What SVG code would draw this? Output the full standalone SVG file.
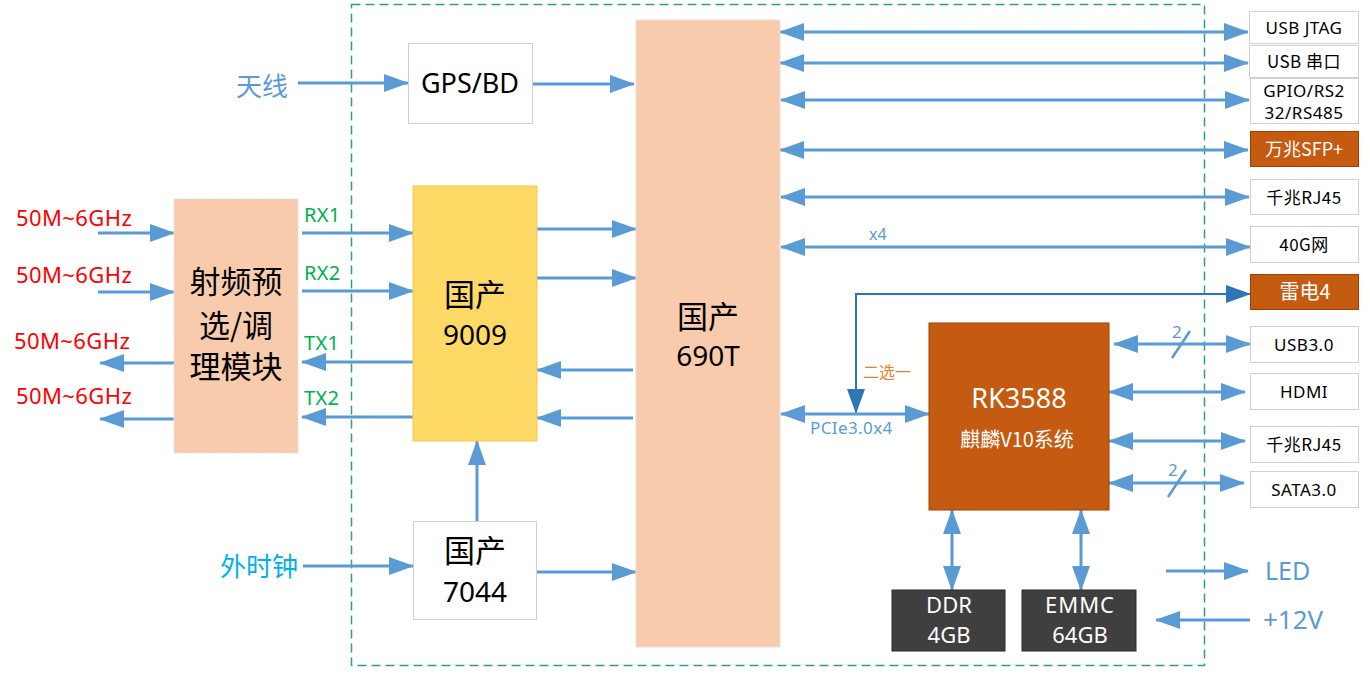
<svg xmlns="http://www.w3.org/2000/svg" width="1370" height="680" viewBox="0 0 1370 680">
<style>
.t{font-family:"Noto Sans","Noto Sans CJK SC",sans-serif;}
.c{font-family:"Noto Sans CJK SC","Noto Sans",sans-serif;}
.ln{stroke:#5B9BD5;stroke-width:3;fill:none;}
.one{marker-end:url(#a);}
.two{marker-start:url(#a);marker-end:url(#a);}
.wb{fill:#FFFFFF;stroke:#D0D0D0;stroke-width:1;}
.ob{fill:#C55A11;stroke:#A04000;stroke-width:1;}
.db{fill:#3F3F3F;stroke:#2A2A2A;stroke-width:1;}
.red{fill:#FF0000;font-size:22px;letter-spacing:0.4px;}
.grn{fill:#00B050;font-size:20px;letter-spacing:0.3px;}
.blk{fill:#000000;}
.wht{fill:#FFFFFF;}
.rt{font-size:17px;fill:#000;letter-spacing:0.5px;}
</style>
<defs>
<marker id="a" viewBox="0 0 25 18" refX="24" refY="9" markerWidth="25" markerHeight="18" markerUnits="userSpaceOnUse" orient="auto-start-reverse"><path d="M0,0 L25,9 L0,18 z" fill="#5B9BD5"/></marker>
<marker id="d" viewBox="0 0 25 18" refX="24" refY="9" markerWidth="25" markerHeight="18" markerUnits="userSpaceOnUse" orient="auto-start-reverse"><path d="M0,0 L25,9 L0,18 z" fill="#2E75B6"/></marker>
</defs>
<rect width="1370" height="680" fill="#FFFFFF"/>
<rect id="board" x="351.5" y="4.5" width="853" height="661" fill="none" stroke="#2E9C96" stroke-width="1.5" stroke-dasharray="9,5"/>

<g id="connectors">
<line class="ln one" x1="98" y1="233" x2="174" y2="233"/>
<line class="ln one" x1="98" y1="292" x2="174" y2="292"/>
<line class="ln one" x1="174" y1="363" x2="100" y2="363"/>
<line class="ln one" x1="174" y1="419" x2="100" y2="419"/>
<line class="ln one" x1="302" y1="233" x2="413" y2="233"/>
<line class="ln one" x1="302" y1="291" x2="413" y2="291"/>
<line class="ln one" x1="413" y1="362" x2="302" y2="362"/>
<line class="ln one" x1="413" y1="417" x2="302" y2="417"/>
<line class="ln one" x1="537" y1="229" x2="636" y2="229"/>
<line class="ln one" x1="537" y1="278" x2="636" y2="278"/>
<line class="ln one" x1="633" y1="370" x2="537" y2="370"/>
<line class="ln one" x1="633" y1="418" x2="537" y2="418"/>
<line class="ln one" x1="298" y1="83" x2="408" y2="83"/>
<line class="ln one" x1="533" y1="84" x2="634" y2="84"/>
<line class="ln one" x1="303" y1="566" x2="413" y2="566"/>
<line class="ln one" x1="537" y1="572" x2="636" y2="572"/>
<line class="ln one" x1="477" y1="521" x2="477" y2="441"/>
<line class="ln two" x1="780" y1="32" x2="1248" y2="32"/>
<line class="ln two" x1="780" y1="63" x2="1248" y2="63"/>
<line class="ln two" x1="781" y1="100" x2="1249" y2="100"/>
<line class="ln two" x1="780" y1="150" x2="1248" y2="150"/>
<line class="ln two" x1="781" y1="197" x2="1249" y2="197"/>
<line class="ln two" x1="781" y1="247" x2="1250" y2="247"/>
<text class="t" x="869" y="240" font-size="16" fill="#5B9BD5">x4</text>
<polyline points="856,413 856,294 1250,294" fill="none" stroke="#2E75B6" stroke-width="2" marker-start="url(#d)" marker-end="url(#d)"/>
<text class="c" x="863" y="378" font-size="16" fill="#ED7D31">二选一</text>
<line class="ln two" x1="781" y1="414" x2="929" y2="414"/>
<text class="t" x="810" y="434" font-size="17" fill="#5B9BD5" letter-spacing="0.4">PCIe3.0x4</text>
<line class="ln two" x1="1114" y1="344" x2="1250" y2="344"/>
<line stroke="#5B9BD5" stroke-width="2.5" x1="1172" y1="358" x2="1190" y2="331"/>
<text class="t" x="1172" y="338" font-size="17" fill="#5B9BD5">2</text>
<line class="ln two" x1="1109" y1="392" x2="1245" y2="392"/>
<line class="ln two" x1="1109" y1="441" x2="1245" y2="441"/>
<line class="ln two" x1="1109" y1="483" x2="1244" y2="483"/>
<line stroke="#5B9BD5" stroke-width="2.5" x1="1168" y1="497" x2="1186" y2="470"/>
<text class="t" x="1168" y="476" font-size="17" fill="#5B9BD5">2</text>
<line class="ln two" x1="952" y1="510" x2="952" y2="590"/>
<line class="ln two" x1="1081" y1="510" x2="1081" y2="590"/>
<line class="ln one" x1="1166" y1="571" x2="1248" y2="571"/>
<line class="ln one" x1="1250" y1="620" x2="1156" y2="620"/>
</g>

<g id="labels">
<text class="c" x="236" y="96" font-size="26" fill="#5B9BD5">天线</text>
<text class="c" x="220" y="576" font-size="26" fill="#00B0F0">外时钟</text>
<text class="t red" x="16" y="226">50M~6GHz</text>
<text class="t red" x="16" y="283">50M~6GHz</text>
<text class="t red" x="14" y="349">50M~6GHz</text>
<text class="t red" x="16" y="404">50M~6GHz</text>
<text class="t grn" x="304" y="222">RX1</text>
<text class="t grn" x="304" y="280">RX2</text>
<text class="t grn" x="304" y="350">TX1</text>
<text class="t grn" x="304" y="405">TX2</text>
<text class="t" x="1265" y="580" font-size="25" fill="#5B9BD5">LED</text>
<text class="t" x="1263" y="629" font-size="26" fill="#5B9BD5">+12V</text>
</g>

<g id="rf">
<rect x="174" y="199" width="124" height="254" fill="#F8CBAD" stroke="#E0E0E0" stroke-width="1" stroke-dasharray="4,2"/>
<text class="c blk" text-anchor="middle" x="236" y="293" font-size="31">射频预</text>
<text class="c blk" text-anchor="middle" x="236" y="337" font-size="31">选/调</text>
<text class="c blk" text-anchor="middle" x="236" y="378" font-size="31">理模块</text>
</g>

<g id="gps">
<rect class="wb" x="408.5" y="43.5" width="124" height="80"/>
<text class="t blk" text-anchor="middle" x="470" y="93" font-size="27">GPS/BD</text>
</g>

<g id="n9009">
<rect x="413" y="186" width="124" height="255" fill="#FFD966" stroke="#F0C850" stroke-width="1"/>
<text class="c blk" text-anchor="middle" x="475" y="306" font-size="31">国产</text>
<text class="t blk" text-anchor="middle" x="475" y="345" font-size="28">9009</text>
</g>

<g id="n7044">
<rect class="wb" x="413.5" y="521.5" width="123" height="98"/>
<text class="c blk" text-anchor="middle" x="475" y="562" font-size="31">国产</text>
<text class="t blk" text-anchor="middle" x="475" y="602" font-size="28">7044</text>
</g>

<g id="n690t">
<rect x="636" y="20" width="144" height="627" fill="#F8CBAD" stroke="#E8E0DA" stroke-width="1"/>
<text class="c blk" text-anchor="middle" x="708" y="328" font-size="31">国产</text>
<text class="t blk" text-anchor="middle" x="708" y="366" font-size="28">690T</text>
</g>

<g id="rk3588">
<rect class="ob" x="929" y="323" width="180" height="187"/>
<text class="t wht" text-anchor="middle" x="1019" y="408" font-size="27">RK3588</text>
<text class="c wht" text-anchor="middle" x="1017" y="447" font-size="20">麒麟V10系统</text>
</g>

<g id="ddr">
<rect class="db" x="892" y="590" width="113" height="61"/>
<text class="t wht" text-anchor="middle" x="949" y="613" font-size="22">DDR</text>
<text class="t wht" text-anchor="middle" x="949" y="643" font-size="22">4GB</text>
</g>
<g id="emmc">
<rect class="db" x="1022" y="590" width="114" height="61"/>
<text class="t wht" text-anchor="middle" x="1080" y="613" font-size="22" letter-spacing="1">EMMC</text>
<text class="t wht" text-anchor="middle" x="1080" y="643" font-size="22">64GB</text>
</g>

<g id="usbjtag"><rect class="wb" x="1249.5" y="11.5" width="109" height="32"/><text class="t rt" text-anchor="middle" x="1304" y="34">USB JTAG</text></g>
<g id="usbser"><rect class="wb" x="1249.5" y="45.5" width="109" height="32"/><text class="c rt" text-anchor="middle" x="1304" y="68">USB 串口</text></g>
<g id="gpio"><rect class="wb" x="1250.5" y="78.5" width="108" height="45"/><text class="t rt" text-anchor="middle" x="1304" y="97">GPIO/RS2</text><text class="t rt" text-anchor="middle" x="1304" y="119">32/RS485</text></g>
<g id="sfp"><rect class="ob" x="1250.5" y="131.5" width="108" height="35"/><text class="c wht" text-anchor="middle" x="1304" y="156" font-size="18">万兆SFP+</text></g>
<g id="rj45a"><rect class="wb" x="1250.5" y="179.5" width="108" height="35"/><text class="c rt" text-anchor="middle" x="1304" y="204">千兆RJ45</text></g>
<g id="g40"><rect class="wb" x="1250.5" y="226.5" width="108" height="36"/><text class="c rt" text-anchor="middle" x="1304" y="251">40G网</text></g>
<g id="tb4"><rect class="ob" x="1250.5" y="274.5" width="108" height="35"/><text class="c wht" text-anchor="middle" x="1305" y="299" font-size="20">雷电4</text></g>
<g id="usb3"><rect class="wb" x="1250.5" y="326.5" width="108" height="36"/><text class="t rt" text-anchor="middle" x="1304" y="351">USB3.0</text></g>
<g id="hdmi"><rect class="wb" x="1250.5" y="373.5" width="108" height="36"/><text class="t rt" text-anchor="middle" x="1304" y="398">HDMI</text></g>
<g id="rj45b"><rect class="wb" x="1250.5" y="426.5" width="108" height="36"/><text class="c rt" text-anchor="middle" x="1304" y="451">千兆RJ45</text></g>
<g id="sata"><rect class="wb" x="1250.5" y="471.5" width="108" height="36"/><text class="t rt" text-anchor="middle" x="1304" y="496">SATA3.0</text></g>
</svg>
